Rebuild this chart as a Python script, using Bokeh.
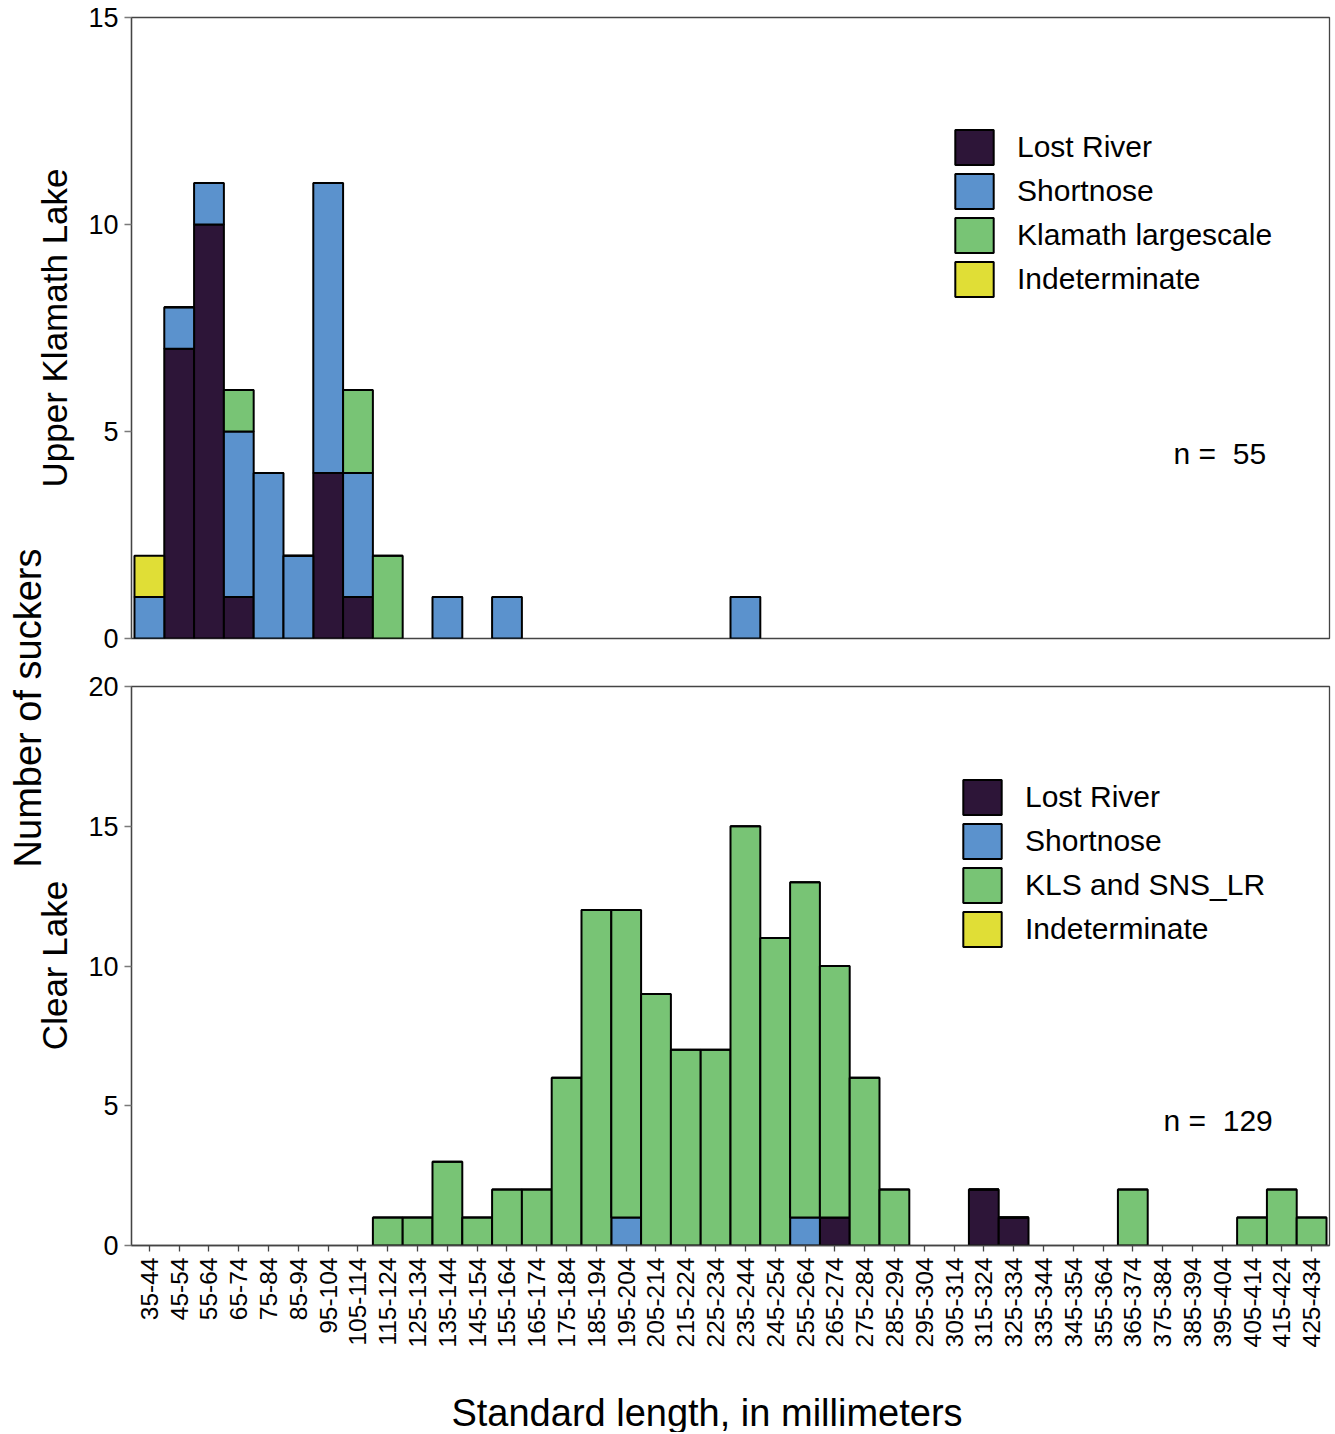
import math
from bokeh.plotting import figure
from bokeh.models import (FactorRange, Range1d, Legend, LegendItem, Label,
                          FixedTicker)
from bokeh.layouts import row, column
from bokeh.embed import file_html
from bokeh.resources import INLINE

# ---------------- data ----------------
size_classes = [
    "35-44", "45-54", "55-64", "65-74", "75-84", "85-94", "95-104", "105-114",
    "115-124", "125-134", "135-144", "145-154", "155-164", "165-174", "175-184",
    "185-194", "195-204", "205-214", "215-224", "225-234", "235-244", "245-254",
    "255-264", "265-274", "275-284", "285-294", "295-304", "305-314", "315-324",
    "325-334", "335-344", "345-354", "355-364", "365-374", "375-384", "385-394",
    "395-404", "405-414", "415-424", "425-434",
]

# Upper Klamath Lake (n = 55)
ukl_lost_river = [0, 7, 10, 1, 0, 0, 4, 1, 0, 0,
                  0, 0, 0, 0, 0, 0, 0, 0, 0, 0,
                  0, 0, 0, 0, 0, 0, 0, 0, 0, 0,
                  0, 0, 0, 0, 0, 0, 0, 0, 0, 0]
ukl_shortnose = [1, 1, 1, 4, 4, 2, 7, 3, 0, 0,
                 1, 0, 1, 0, 0, 0, 0, 0, 0, 0,
                 1, 0, 0, 0, 0, 0, 0, 0, 0, 0,
                 0, 0, 0, 0, 0, 0, 0, 0, 0, 0]
ukl_klamath_largescale = [0, 0, 0, 1, 0, 0, 0, 2, 2, 0,
                          0, 0, 0, 0, 0, 0, 0, 0, 0, 0,
                          0, 0, 0, 0, 0, 0, 0, 0, 0, 0,
                          0, 0, 0, 0, 0, 0, 0, 0, 0, 0]
ukl_indeterminate = [1, 0, 0, 0, 0, 0, 0, 0, 0, 0,
                     0, 0, 0, 0, 0, 0, 0, 0, 0, 0,
                     0, 0, 0, 0, 0, 0, 0, 0, 0, 0,
                     0, 0, 0, 0, 0, 0, 0, 0, 0, 0]

# Clear Lake (n = 129)
cl_lost_river = [0, 0, 0, 0, 0, 0, 0, 0, 0, 0,
                 0, 0, 0, 0, 0, 0, 0, 0, 0, 0,
                 0, 0, 0, 1, 0, 0, 0, 0, 2, 1,
                 0, 0, 0, 0, 0, 0, 0, 0, 0, 0]
cl_shortnose = [0, 0, 0, 0, 0, 0, 0, 0, 0, 0,
                0, 0, 0, 0, 0, 0, 1, 0, 0, 0,
                0, 0, 1, 0, 0, 0, 0, 0, 0, 0,
                0, 0, 0, 0, 0, 0, 0, 0, 0, 0]
cl_kls_and_sns_lr = [0, 0, 0, 0, 0, 0, 0, 0, 1, 1,
                     3, 1, 2, 2, 6, 12, 11, 9, 7, 7,
                     15, 11, 12, 9, 6, 2, 0, 0, 0, 0,
                     0, 0, 0, 2, 0, 0, 0, 1, 2, 1]
cl_indeterminate = [0] * 40

ukl_names = ["Lost River", "Shortnose", "Klamath largescale", "Indeterminate"]
cl_names = ["Lost River", "Shortnose", "KLS and SNS_LR", "Indeterminate"]
ukl_title = "Upper Klamath Lake"
cl_title = "Clear Lake"
ukl_n = "n = \u00a055"
cl_n = "n = \u00a0129"
x_title = "Standard length, in millimeters"
y_title = "Number of suckers"

colors = ["#2d1538", "#5b92cd", "#78c475", "#e0de36"]
FONT = "Liberation Sans"
DARK = "#444444"
GREY = "#7a7a7a"
SIDE_W = 85
MAIN_W = 1333 - SIDE_W
BORDER_L = 46
FRAME_LEFT = SIDE_W + BORDER_L


def make_panel(series, names, ymax, yticks, ntext, n_xy, leg_xy,
               bottom_panel, height, mb_top, mb_bottom):
    p = figure(
        x_range=FactorRange(factors=size_classes, range_padding=0.1,
                            range_padding_units="absolute"),
        y_range=Range1d(0, ymax),
        width=MAIN_W, height=height,
        output_backend="svg", toolbar_location=None,
        min_border_left=BORDER_L, min_border_right=4,
        min_border_top=mb_top, min_border_bottom=mb_bottom,
    )
    totals = [sum(v) for v in zip(*series)]
    base = [0] * len(size_classes)
    items = []
    for vals, name, col in zip(series, names, colors):
        xs, bots, tops = [], [], []
        for c, v, b0, tot in zip(size_classes, vals, base, totals):
            # skip empty size classes so no outline is drawn on the axis
            if tot > 0:
                xs.append(c)
                bots.append(b0)
                tops.append(b0 + v)
        base = [b0 + v for b0, v in zip(base, vals)]
        r = p.vbar(x=xs, bottom=bots, top=tops, width=1.0,
                   fill_color=col, line_color="black", line_width=2)
        items.append(LegendItem(label=name, renderers=[r]))

    legend = Legend(items=items, location=leg_xy,
                    glyph_width=48, glyph_height=44, spacing=0,
                    label_standoff=19, padding=0, margin=0,
                    border_line_color=None, background_fill_alpha=0,
                    label_text_font=FONT, label_text_font_size="30px",
                    label_text_color="black")
    p.add_layout(legend)

    p.add_layout(Label(x=n_xy[0], y=n_xy[1], x_units="screen", y_units="screen",
                       text=ntext, text_font=FONT, text_font_size="30px",
                       text_baseline="middle", text_align="left",
                       text_color="black"))

    p.xgrid.visible = False
    p.ygrid.visible = False
    p.outline_line_color = DARK
    p.outline_line_width = 1.3

    ya = p.yaxis[0]
    ya.ticker = FixedTicker(ticks=yticks)
    ya.major_label_text_font = FONT
    ya.major_label_text_font_size = "27px"
    ya.major_label_text_color = "black"
    ya.major_label_standoff = 6
    ya.major_tick_out = 7
    ya.major_tick_in = 0
    ya.minor_tick_out = 0
    ya.minor_tick_in = 0
    ya.axis_line_color = DARK
    ya.axis_line_width = 1.3
    ya.major_tick_line_color = GREY
    ya.major_tick_line_width = 1.3

    xa = p.xaxis[0]
    if bottom_panel:
        xa.axis_line_color = DARK
        xa.axis_line_width = 1.3
        xa.major_label_orientation = math.pi / 2
        xa.major_label_text_font = FONT
        xa.major_label_text_font_size = "24.5px"
        xa.major_label_text_color = "black"
        xa.major_label_standoff = 6
        xa.major_tick_out = 6
        xa.major_tick_in = 0
        xa.major_tick_line_color = DARK
        xa.major_tick_line_width = 1.3
    else:
        xa.visible = False
    return p


top = make_panel([ukl_lost_river, ukl_shortnose, ukl_klamath_largescale, ukl_indeterminate],
                 ukl_names, 15, [0, 5, 10, 15], ukl_n,
                 (1042, 185), (819, 337), False, 662, 17, 24)
bottom = make_panel([cl_lost_river, cl_shortnose, cl_kls_and_sns_lr, cl_indeterminate],
                    cl_names, 20, [0, 5, 10, 15, 20], cl_n,
                    (1032, 125), (827, 294), True, 690, 24, 107)


def text_strip(width, height):
    f = figure(width=width, height=height, output_backend="svg",
               toolbar_location=None, x_range=Range1d(0, 1), y_range=Range1d(0, 1),
               x_axis_type=None, y_axis_type=None, min_border=0,
               outline_line_color=None)
    f.xgrid.visible = False
    f.ygrid.visible = False
    return f


# x-axis title strip below the bottom panel (its frame is aligned with the panels)
xt = text_strip(MAIN_W, 80)
xt.add_layout(Label(x=706.5 - FRAME_LEFT, y=20, x_units="screen", y_units="screen",
                    text=x_title, text_align="center", text_baseline="middle",
                    text_font=FONT, text_font_size="38px", text_color="black"))

# left strip: shared y title and the two lake titles
side = text_strip(SIDE_W, 1432)
side.add_layout(Label(x=27, y=724.5, x_units="screen", y_units="screen",
                      text=y_title, angle=math.pi / 2,
                      text_align="center", text_baseline="middle",
                      text_font=FONT, text_font_size="38px", text_color="black"))
side.add_layout(Label(x=53.5, y=1104.5, x_units="screen", y_units="screen",
                      text=ukl_title, angle=math.pi / 2,
                      text_align="center", text_baseline="middle",
                      text_font=FONT, text_font_size="35px", text_color="black"))
side.add_layout(Label(x=53.5, y=467, x_units="screen", y_units="screen",
                      text=cl_title, angle=math.pi / 2,
                      text_align="center", text_baseline="middle",
                      text_font=FONT, text_font_size="35px", text_color="black"))

layout = row(side, column(top, bottom, xt))
open("out.html", "w").write(file_html(layout, INLINE))
